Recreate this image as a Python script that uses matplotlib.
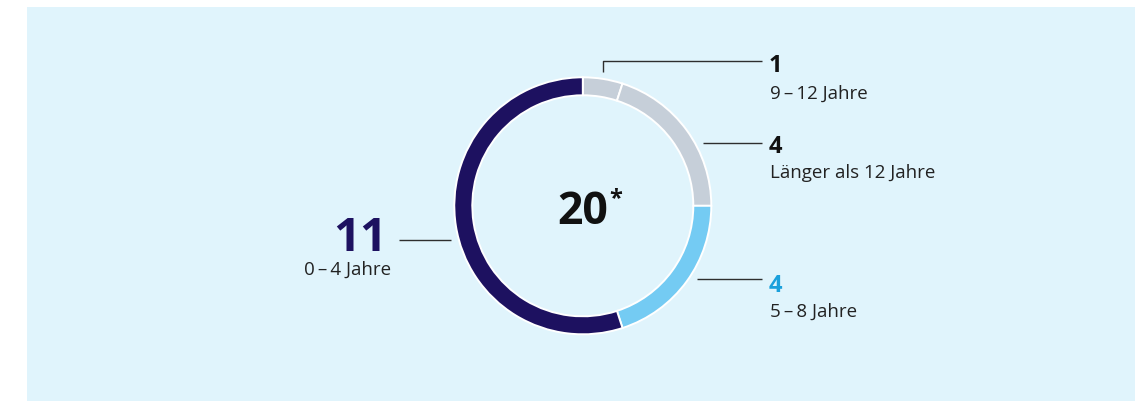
import matplotlib
matplotlib.use("Agg")
import matplotlib.pyplot as plt
from matplotlib import font_manager
from matplotlib.patches import Rectangle

# data
values = [1, 4, 4, 11]
labels = ["9\u2009\u2013\u200912 Jahre", "L\u00e4nger als 12 Jahre",
          "5\u2009\u2013\u20098 Jahre", "0\u2009\u2013\u20094 Jahre"]
colors = ["#c6cfd9", "#c6cfd9", "#74cbf3", "#1d1160"]
total_label = "20"

W, H = 1145, 401

# pick a humanist sans that really has a bold face installed
bold_family = "DejaVu Sans"
for fam in ["Noto Sans", "Open Sans", "Lato", "Roboto", "Liberation Sans"]:
    faces = [f for f in font_manager.fontManager.ttflist if f.name == fam]
    if any((f.weight if isinstance(f.weight, int) else 400) >= 600 for f in faces):
        bold_family = fam
        break
plt.rcParams["font.family"] = [bold_family, "DejaVu Sans"]

fig = plt.figure(figsize=(W / 100, H / 100), dpi=100)
ax = fig.add_axes([0, 0, 1, 1])


def yy(py):
    # pixel row -> data y
    return H - py


ax.add_patch(Rectangle((27, 0), 1135 - 27, yy(7), facecolor="#e0f4fc",
                       edgecolor="none", zorder=0))

cx, cy, R = 582.8, yy(205.8), 128.5
ax.pie(values, colors=colors, startangle=90, counterclock=False,
       center=(cx, cy), radius=R,
       wedgeprops=dict(width=18, edgecolor="white", linewidth=1.4))

ax.set_xlim(0, W)
ax.set_ylim(0, H)
ax.set_aspect("auto")
ax.axis("off")

# centre total
ax.text(cx, yy(224), total_label, ha="center", va="baseline",
        fontsize=32, fontweight="bold", color="#111111")
ax.text(609, yy(205), "*", ha="left", va="baseline",
        fontsize=17, fontweight="bold", color="#111111")

line_kw = dict(color="#2e2e2e", linewidth=1.0, solid_capstyle="butt")

# leader lines
ax.plot([603, 603, 762], [yy(72), yy(61), yy(61)], **line_kw)
ax.plot([703, 762], [yy(143), yy(143)], **line_kw)
ax.plot([697, 762], [yy(279), yy(279)], **line_kw)
ax.plot([399, 451], [yy(240), yy(240)], **line_kw)

num_colors = ["#111111", "#111111", "#1aa0dc"]
num_base = [72, 153, 292]
lab_base = [99, 178, 317]
for i in range(3):
    ax.text(769, yy(num_base[i]), str(values[i]), ha="left", va="baseline",
            fontsize=17, fontweight="bold", color=num_colors[i])
    ax.text(770, yy(lab_base[i]), labels[i], ha="left", va="baseline",
            fontsize=13.5, color="#222222")

ax.text(387, yy(251), str(values[3]), ha="right", va="baseline",
        fontsize=34, fontweight="bold", color="#1d1160")
ax.text(391, yy(275), labels[3], ha="right", va="baseline",
        fontsize=13.5, color="#222222")

fig.savefig("out.png", dpi=100, facecolor="white")
